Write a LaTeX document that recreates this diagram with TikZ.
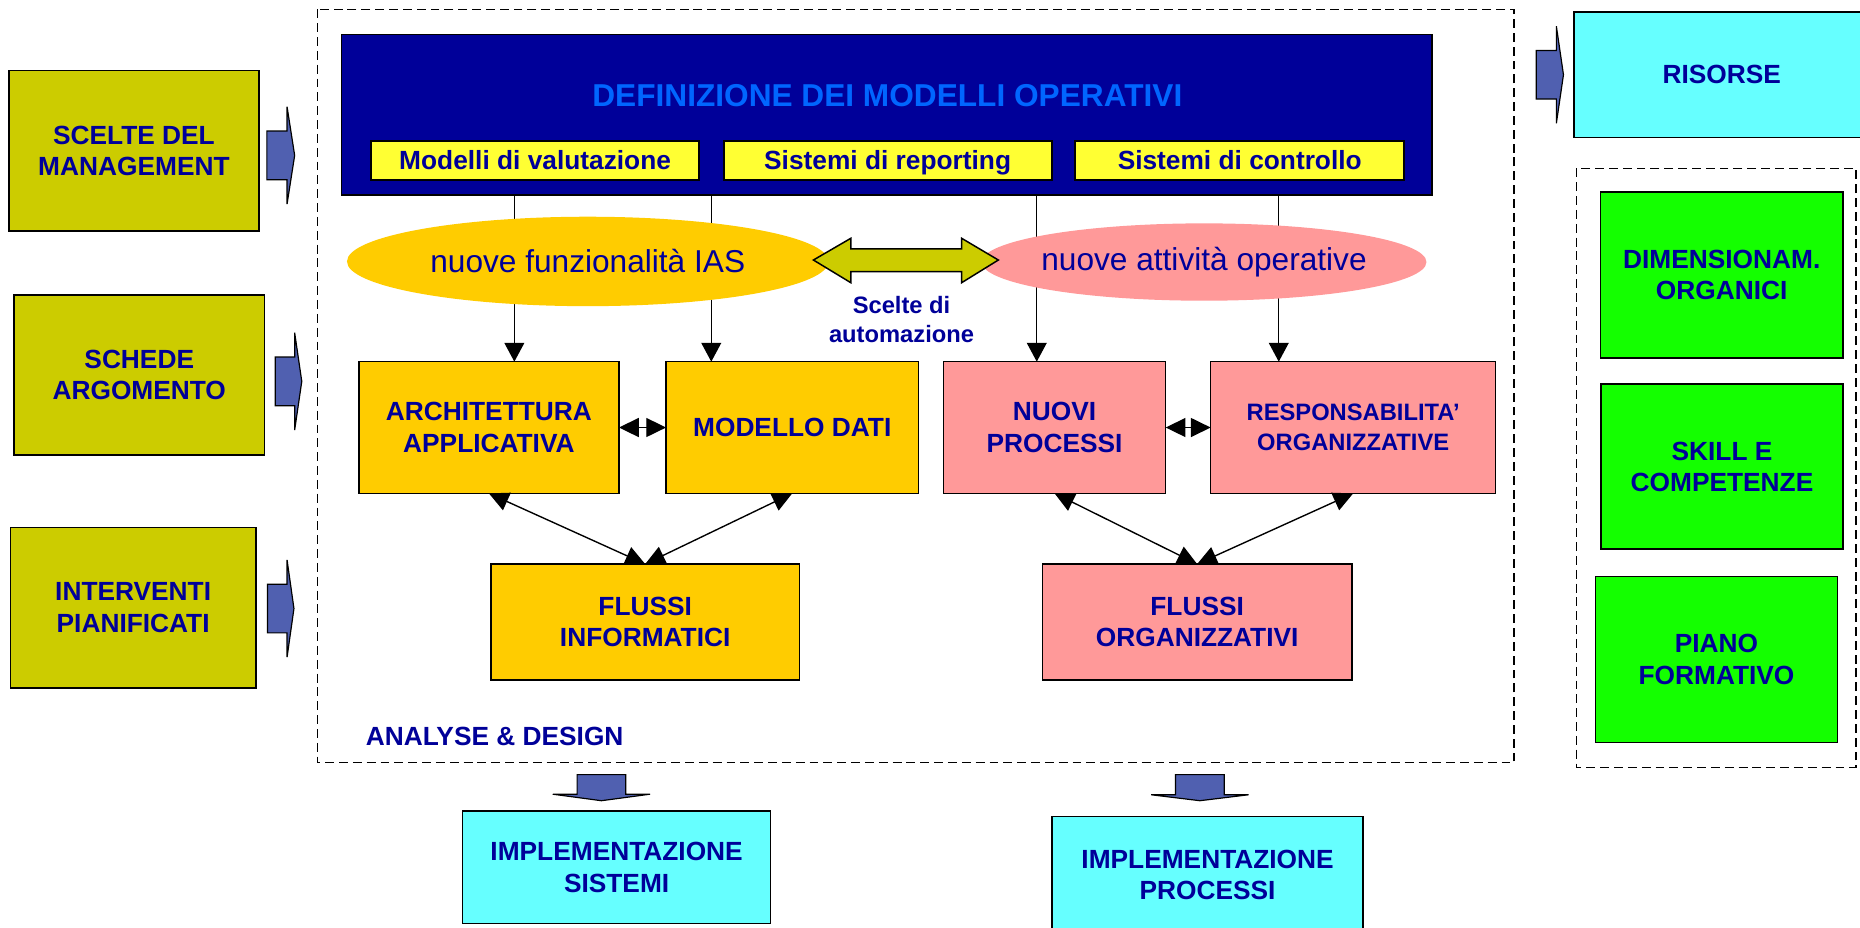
\documentclass[tikz,border=0pt]{standalone}
\usepackage{fontspec}
\usepackage{tikz}
\usetikzlibrary{shapes.geometric, arrows.meta}
\setmainfont{Liberation Sans}
\definecolor{navyText}{HTML}{000099}
\definecolor{titleBlue}{HTML}{0066FF}
\definecolor{oliveFill}{HTML}{CCCC00}
\definecolor{yellowFill}{HTML}{FFFF33}
\definecolor{orangeFill}{HTML}{FFCC00}
\definecolor{pinkFill}{HTML}{FF9999}
\definecolor{cyanFill}{HTML}{66FFFF}
\definecolor{greenFill}{HTML}{14FF00}
\definecolor{arrowBlue}{HTML}{5060B0}
\newcommand{\unitLength}{0.6pt}
\newcommand{\labelFont}{\bfseries\fontsize{13.3}{15.8}\selectfont}
\newcommand{\smallLabelFont}{\bfseries\fontsize{12}{15.2}\selectfont}
\newcommand{\noteFont}{\bfseries\fontsize{12}{14.8}\selectfont}
\tikzstyle{sheet} = [x = 0.6pt, y = -0.6pt]
\tikzstyle{frameStyle} = [line width = 0.75pt, dash pattern = on 4.5pt off 2.5pt]
\tikzstyle{boxStyle} = [draw = black, line width = 0.75pt, inner sep = 0pt, outer sep = 0pt, align = center, text = navyText, font = \labelFont]
\tikzstyle{oliveBox} = [boxStyle, fill = oliveFill]
\tikzstyle{orangeBox} = [boxStyle, fill = orangeFill]
\tikzstyle{pinkBox} = [boxStyle, fill = pinkFill]
\tikzstyle{cyanBox} = [boxStyle, fill = cyanFill]
\tikzstyle{greenBox} = [boxStyle, fill = greenFill]
\tikzstyle{subBox} = [boxStyle, fill = yellowFill, line width = 1pt, text height = 9.6pt, text depth = 0pt]
\tikzstyle{headerBox} = [boxStyle, fill = navyText]
\tikzstyle{titleText} = [text = titleBlue, font = \bfseries\fontsize{16}{19}\selectfont]
\tikzstyle{labelText} = [text = navyText, font = \labelFont]
\tikzstyle{noteText} = [text = navyText, font = \noteFont, align = center]
\tikzstyle{ellipseStyle} = [ellipse, inner xsep = -6pt, inner ysep = 0pt, text = navyText, font = \fontsize{16}{19}\selectfont]
\tikzstyle{blockArrowStyle} = [fill = arrowBlue, draw = black, line width = 0.6pt, line join = miter]
\tikzstyle{oliveArrowStyle} = [fill = oliveFill, draw = black, line width = 0.75pt]
\tikzstyle{flowLine} = [line width = 0.7pt, -{Triangle[length = 9.5pt, width = 10pt]}]
\tikzstyle{linkLine} = [line width = 0.7pt, {Triangle[length = 10pt, width = 9.6pt]}-{Triangle[length = 10pt, width = 9.6pt]}]
\newcommand{\labelBox}[7]{\node [#2, minimum width = {(#5 - #3) * \unitLength}, minimum height = {(#6 - #4) * \unitLength}] (#1) at ({(#3 + #5) / 2}, {(#4 + #6) / 2}) {#7};}
\newcommand{\rightBlockArrow}[4]{\filldraw [blockArrowStyle] (#1, #4 - 20.5) -- (#2, #4 - 20.5) -- (#2, #4 - 41) -- (#3, #4) -- (#2, #4 + 41) -- (#2, #4 + 20.5) -- (#1, #4 + 20.5) -- cycle;}
\newcommand{\downBlockArrow}[4]{\filldraw [blockArrowStyle] (#4 - 20.5, #1) -- (#4 + 20.5, #1) -- (#4 + 20.5, #2) -- (#4 + 41, #2) -- (#4, #3) -- (#4 - 41, #2) -- (#4 - 20.5, #2) -- cycle;}
\begin{document}
\begin{tikzpicture}[sheet]
  \useasboundingbox [fill = white] (0, 0) rectangle (1568, 782);
  \draw [frameStyle] (267.6, 7.9) rectangle (1276.4, 643);
  \draw [frameStyle] (1329, 142) rectangle (1564.7, 647);

  \labelBox{scelte}{oliveBox}{7.5}{59.6}{218.3}{194.7}{SCELTE DEL\\MANAGEMENT}
  \labelBox{schede}{oliveBox}{12}{248.7}{222.8}{383.7}{SCHEDE\\ARGOMENTO}
  \labelBox{interv}{oliveBox}{8.7}{444.5}{215.8}{579.8}{INTERVENTI\\PIANIFICATI}
  \rightBlockArrow{225}{242}{248.4}{131}
  \rightBlockArrow{232}{248.4}{254.4}{321.5}
  \rightBlockArrow{225.5}{242}{247.8}{513}

  \labelBox{hdr}{headerBox}{288}{29}{1207}{164.4}{}
  \node [titleText] (title) at (748, 81) {DEFINIZIONE DEI MODELLI OPERATIVI};
  \labelBox{valut}{subBox}{312.7}{118.9}{589.5}{151.7}{Modelli di valutazione}
  \labelBox{report}{subBox}{610}{118.9}{886.6}{151.7}{Sistemi di reporting}
  \labelBox{contr}{subBox}{906.3}{118.9}{1183.9}{151.7}{Sistemi di controllo}

  \labelBox{arch}{orangeBox}{302.5}{304.9}{521.8}{415.9}{ARCHITETTURA\\APPLICATIVA}
  \labelBox{modello}{orangeBox}{561.5}{304.9}{774.2}{415.9}{MODELLO DATI}
  \labelBox{nuovi}{pinkBox}{795.3}{304.9}{982.7}{415.9}{NUOVI\\PROCESSI}
  \labelBox{resp}{pinkBox, font = \smallLabelFont}{1020.6}{304.9}{1260.9}{415.9}{RESPONSABILITA’\\ORGANIZZATIVE}
  \labelBox{flInf}{orangeBox}{413.8}{475.5}{674}{573.3}{FLUSSI\\INFORMATICI}
  \labelBox{flOrg}{pinkBox}{878.8}{475.5}{1139.6}{573.3}{FLUSSI\\ORGANIZZATIVI}
  \node [labelText] (analyse) at (417, 621) {ANALYSE \& DESIGN};

  \coordinate (colA) at (433.6, 0);
  \coordinate (colB) at (599.6, 0);
  \coordinate (colC) at (874, 0);
  \coordinate (colD) at (1078, 0);
  \draw [flowLine] (hdr.south -| colA) -- (arch.north -| colA);
  \draw [flowLine] (hdr.south -| colB) -- (modello.north -| colB);
  \draw [flowLine] (hdr.south -| colC) -- (nuovi.north -| colC);
  \draw [flowLine] (hdr.south -| colD) -- (resp.north -| colD);
  \draw [linkLine] (arch.east) -- (modello.west);
  \draw [linkLine] (nuovi.east) -- (resp.west);
  \draw [linkLine] (arch.south) -- (flInf.north);
  \draw [linkLine] (modello.south) -- (flInf.north);
  \draw [linkLine] (nuovi.south) -- (flOrg.north);
  \draw [linkLine] (resp.south) -- (flOrg.north);

  \node [ellipseStyle, fill = orangeFill, minimum width = {406 * \unitLength}, minimum height = {75.4 * \unitLength}] (iasEll) at (495.5, 220.4) {nuove funzionalità IAS};
  \node [ellipseStyle, fill = pinkFill, minimum width = {375 * \unitLength}, minimum height = {65.2 * \unitLength}] (opEll) at (1015, 220.9) {nuove attività operative};
  \filldraw [oliveArrowStyle] (685.7, 219.2) -- (717.2, 200.9) -- (717.2, 209.9) -- (810.7, 209.9) -- (810.7, 200.9) -- (841.6, 219.2) -- (810.7, 238.3) -- (810.7, 229) -- (717.2, 229) -- (717.2, 238.3) -- cycle;
  \node [noteText] (scelteAut) at (760, 269.3) {Scelte di\\automazione};

  \downBlockArrow{653}{669.5}{675}{507}
  \downBlockArrow{653}{670}{675}{1011.5}
  \labelBox{implSis}{cyanBox}{390.1}{683.7}{649.5}{778.7}{IMPLEMENTAZIONE\\SISTEMI}
  \labelBox{implProc}{cyanBox}{887}{688.2}{1149}{787}{IMPLEMENTAZIONE\\PROCESSI}

  \rightBlockArrow{1295}{1312}{1318}{63}
  \labelBox{risorse}{cyanBox}{1327}{10}{1576}{116}{RISORSE}
  \labelBox{dimens}{greenBox}{1349}{162}{1553.8}{301.8}{DIMENSIONAM.\\ORGANICI}
  \labelBox{skill}{greenBox}{1349.5}{323.7}{1553.8}{463}{SKILL E\\COMPETENZE}
  \labelBox{piano}{greenBox}{1345}{486}{1549}{626}{PIANO\\FORMATIVO}
\end{tikzpicture}
\end{document}
